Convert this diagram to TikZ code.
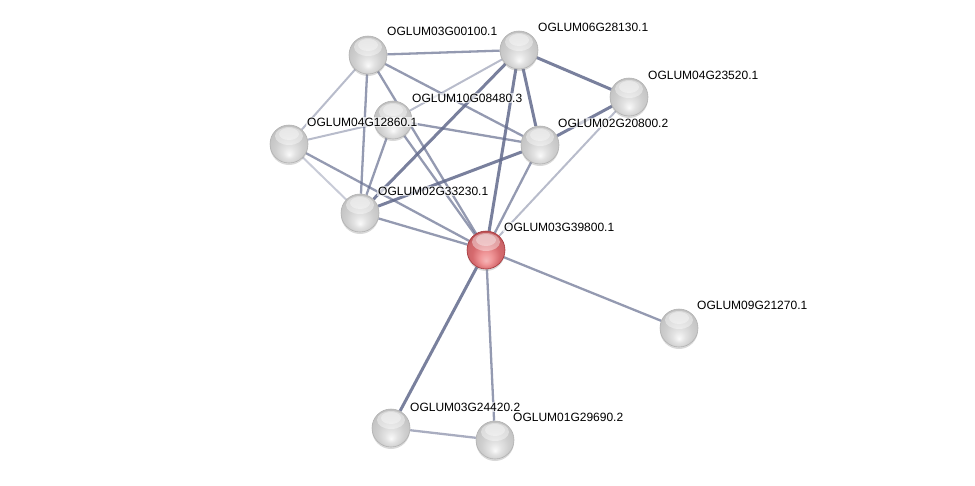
\documentclass[tikz,border=0pt]{standalone}
\usepackage{fontspec}
\setmainfont{Liberation Sans}
\usetikzlibrary{shadows}
\pgfdeclarelayer{bg}
\pgfsetlayers{bg,main}
\definecolor{edgec}{RGB}{98,106,140}
\definecolor{redmid}{RGB}{214,106,110}
\definecolor{redlow}{RGB}{240,150,152}
\definecolor{redrim}{RGB}{165,55,60}
\pgfdeclareradialshading{graysphere}{\pgfpoint{0bp}{-14bp}}{%
  color(0bp)=(white!96!gray); color(8bp)=(gray!22); color(18bp)=(gray!38);
  color(25bp)=(gray!45); color(34bp)=(gray!55); color(40bp)=(gray!60)}
\pgfdeclareradialshading{redsphere}{\pgfpoint{0bp}{-14bp}}{%
  color(0bp)=(redlow!70!white); color(8bp)=(redlow); color(18bp)=(redmid);
  color(25bp)=(redmid!95!black); color(34bp)=(redrim); color(40bp)=(redrim)}
\tikzset{
  glare/.style={path picture={
    \fill[white, opacity=0.4] ([yshift=-11pt]path picture bounding box.north) ellipse (14pt and 9pt);
    \fill[white, opacity=0.35] ([yshift=-9pt]path picture bounding box.north) ellipse (10pt and 6pt);}},
  ball/.style={circle, minimum size=38pt, inner sep=0pt, draw=gray!60, line width=0.6pt,
    shading=graysphere, glare, drop shadow={opacity=0.3, shadow xshift=0pt, shadow yshift=-2pt}},
  redball/.style={ball, shading=redsphere, draw=redrim},
  lbl/.style={anchor=west, font=\fontsize{12}{13}\selectfont, fill=white, fill opacity=0.65,
    text opacity=1, inner sep=1pt},
  ethin/.style={draw=edgec, line width=2pt, opacity=0.45},
  emed/.style={draw=edgec, line width=2.3pt, opacity=0.68},
  ethick/.style={draw=edgec, line width=3pt, opacity=0.85},
}
\begin{document}
\begin{tikzpicture}[x=1pt,y=-1pt]
\useasboundingbox (0,0) rectangle (975,485);
\node[ball] (A) at (368,55) {};
\node[ball] (B) at (519,50) {};
\node[ball] (C) at (629,97) {};
\node[ball] (D) at (393,120) {};
\node[ball] (E) at (289,144) {};
\node[ball] (F) at (540,145) {};
\node[ball] (G) at (360,213) {};
\node[redball] (H) at (486,250) {};
\node[ball] (I) at (679,328) {};
\node[ball] (J) at (391,428) {};
\node[ball] (K) at (495,440) {};
\begin{pgfonlayer}{bg}
\draw[emed] (A) -- (B);
\draw[ethin] (A) -- (E);
\draw[emed] (A) -- (G);
\draw[emed] (A.center) -- (H.center);
\draw[emed] (A) -- (F);
\draw[ethick] (B) -- (C);
\draw[ethin] (B) -- (D);
\draw[ethick] (B) -- (F);
\draw[ethick] (B) -- (G);
\draw[ethick] (B) -- (H);
\draw[ethick] (C) -- (F);
\draw[ethin] (C) -- (H);
\draw[ethin] (D) -- (E);
\draw[emed] (D) -- (F);
\draw[emed] (D) -- (G);
\draw[emed] (D) -- (H);
\draw[ethin, opacity=0.35] (E) -- (G);
\draw[emed] (E) -- (H);
\draw[ethick] (F) -- (G);
\draw[emed] (F) -- (H);
\draw[emed] (G) -- (H);
\draw[emed] (H) -- (I);
\draw[ethick] (H) -- (J);
\draw[emed] (H) -- (K);
\draw[emed, opacity=0.55] (J) -- (K);
\end{pgfonlayer}
\node[lbl] (Al) at ([shift={(18pt,24pt)}]A.center) {OGLUM03G00100.1};
\node[lbl] (Bl) at ([shift={(18pt,23pt)}]B.center) {OGLUM06G28130.1};
\node[lbl] (Cl) at ([shift={(18pt,22pt)}]C.center) {OGLUM04G23520.1};
\node[lbl] (Dl) at ([shift={(18pt,22pt)}]D.center) {OGLUM10G08480.3};
\node[lbl] (El) at ([shift={(17pt,22pt)}]E.center) {OGLUM04G12860.1};
\node[lbl] (Fl) at ([shift={(17pt,22pt)}]F.center) {OGLUM02G20800.2};
\node[lbl] (Gl) at ([shift={(17pt,22pt)}]G.center) {OGLUM02G33230.1};
\node[lbl] (Hl) at ([shift={(17pt,23pt)}]H.center) {OGLUM03G39800.1};
\node[lbl] (Il) at ([shift={(17pt,23pt)}]I.center) {OGLUM09G21270.1};
\node[lbl] (Jl) at ([shift={(18pt,21pt)}]J.center) {OGLUM03G24420.2};
\node[lbl] (Kl) at ([shift={(17pt,23pt)}]K.center) {OGLUM01G29690.2};
\end{tikzpicture}
\end{document}
